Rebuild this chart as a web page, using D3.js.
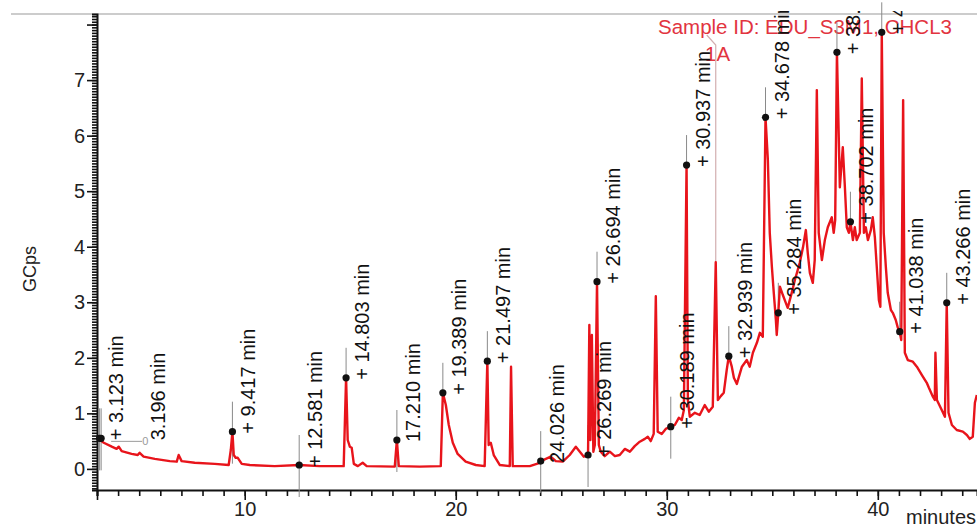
<!DOCTYPE html>
<html>
<head>
<meta charset="utf-8">
<script src="https://cdn.jsdelivr.net/npm/d3@7"></script>
<style>
body { margin: 0; background: #fff; }
svg { display: block; font-family: "Liberation Sans", Arial, sans-serif; }
</style>
</head>
<body>
<div class="chart"></div>
<script>
// chromatogram readings: retention time (min) and signal (GCps)
const traceTimes = [
  3.00, 3.32, 3.70, 3.93, 4.03, 4.17, 4.64, 4.93, 5.02, 5.21, 5.74, 6.45, 6.78, 6.87, 7.01, 7.63, 8.58,
  9.24, 9.34, 9.417, 9.48, 9.57, 9.67, 9.86, 10.24, 11.42, 12.581, 13.55, 14.69, 14.803, 14.88, 14.98,
  15.07, 15.17, 15.36, 15.59, 15.78, 17.11, 17.21, 17.30, 18.29, 19.29, 19.389, 19.53, 19.67, 19.86,
  20.09, 20.47, 20.95, 21.37, 21.497, 21.56, 21.66, 21.80, 22.09, 22.56, 22.62, 22.70, 23.51, 23.98,
  24.026, 24.27, 24.50, 24.74, 25.07, 25.40, 25.69, 25.88, 26.07, 26.269, 26.33, 26.38, 26.45, 26.52,
  26.59, 26.694, 26.78, 26.87, 27.06, 27.30, 27.54, 27.77, 28.01, 28.25, 28.48, 28.72, 28.96, 29.10,
  29.24, 29.38, 29.48, 29.57, 29.76, 29.95, 30.189, 30.38, 30.57, 30.71, 30.81, 30.937, 31.00, 31.09,
  31.33, 31.56, 31.80, 31.99, 32.18, 32.32, 32.42, 32.56, 32.70, 32.84, 32.939, 33.08, 33.18, 33.32,
  33.56, 33.79, 33.93, 34.08, 34.27, 34.41, 34.55, 34.678, 34.79, 34.88, 34.98, 35.07, 35.17, 35.21,
  35.284, 35.36, 35.50, 35.64, 35.73, 35.92, 36.07, 36.30, 36.45, 36.59, 36.68, 36.78, 36.92, 37.01,
  37.11, 37.20, 37.35, 37.49, 37.63, 37.82, 37.91, 37.98, 38.063, 38.20, 38.34, 38.44, 38.53, 38.63,
  38.702, 38.82, 38.91, 39.00, 39.15, 39.24, 39.34, 39.43, 39.53, 39.67, 39.76, 39.86, 39.95, 40.05,
  40.12, 40.187, 40.28, 40.38, 40.47, 40.62, 40.71, 40.85, 40.95, 41.038, 41.11, 41.20, 41.28, 41.42,
  41.66, 41.85, 42.09, 42.32, 42.42, 42.61, 42.70, 42.73, 42.80, 43.03, 43.18, 43.266, 43.35, 43.51,
  43.74, 44.03, 44.22, 44.36, 44.50, 44.60, 44.69
];
const traceValues = [
  0.56, 0.47, 0.40, 0.36, 0.40, 0.32, 0.27, 0.25, 0.29, 0.22, 0.18, 0.14, 0.13, 0.25, 0.14, 0.11, 0.09,
  0.07, 0.34, 0.67, 0.25, 0.20, 0.20, 0.09, 0.07, 0.05, 0.07, 0.05, 0.05, 1.64, 0.52, 0.40,
  0.38, 0.09, 0.05, 0.11, 0.05, 0.04, 0.52, 0.05, 0.04, 0.05, 1.37, 1.15, 0.79, 0.47,
  0.27, 0.13, 0.07, 0.05, 1.94, 0.43, 0.47, 0.25, 0.07, 0.05, 1.84, 0.05, 0.05, 0.11,
  0.14, 0.18, 0.22, 0.14, 0.13, 0.25, 0.40, 0.31, 0.22, 0.25, 2.59, 0.52, 2.41, 0.31,
  0.43, 3.37, 0.43, 0.31, 0.23, 0.31, 0.23, 0.25, 0.36, 0.31, 0.41, 0.49, 0.54, 0.58,
  0.50, 0.63, 3.11, 0.67, 0.63, 0.72, 0.76, 0.79, 0.92, 0.88, 1.06, 5.47, 1.24, 0.94,
  1.01, 0.97, 1.15, 1.03, 1.12, 3.72, 1.24, 1.31, 1.37, 1.78, 2.03, 1.84, 1.64, 1.53,
  1.84, 1.96, 1.84, 2.09, 2.27, 2.45, 2.38, 6.33, 5.56, 4.25, 3.64, 3.17, 2.68, 2.41,
  2.81, 3.28, 3.13, 2.99, 2.90, 3.17, 3.40, 3.71, 3.98, 4.30, 3.89, 3.53, 3.35, 3.76,
  6.82, 4.25, 3.76, 4.12, 4.35, 4.53, 4.25, 4.48, 7.50, 5.07, 5.79, 5.07, 4.35, 4.25,
  4.45, 4.12, 4.35, 4.12, 4.25, 7.03, 4.25, 4.35, 4.12, 4.30, 4.53, 4.17, 3.64, 3.04,
  2.92, 7.86, 4.25, 3.64, 3.17, 2.86, 2.81, 2.68, 2.54, 2.47, 2.32, 6.64, 2.09, 1.96,
  1.93, 1.84, 1.69, 1.55, 1.46, 1.30, 1.24, 2.09, 1.24, 1.06, 0.94, 2.99, 1.01, 0.79,
  0.70, 0.67, 0.61, 0.54, 0.58, 1.19, 1.33
];

// integrated peaks
const peakTimes  = [3.123, 3.196, 9.417, 12.581, 14.803, 17.210, 19.389, 21.497, 24.026, 26.269, 26.694,
                    30.189, 30.937, 32.939, 34.678, 35.284, 38.063, 38.702, 40.187, 41.038, 43.266];
const peakValues = [0.55, 0.55, 0.67, 0.07, 1.64, 0.52, 1.37, 1.94, 0.14, 0.25, 3.37,
                    0.76, 5.47, 2.03, 6.33, 2.81, 7.50, 4.45, 7.86, 2.47, 2.99];
const peakLabels = ['+ 3.123 min', '3.196 min', '+ 9.417 min', '+ 12.581 min', '+ 14.803 min', '17.210 min',
                    '+ 19.389 min', '+ 21.497 min', '24.026 min', '+ 26.269 min', '+ 26.694 min', '+ 30.189 min',
                    '+ 30.937 min', '+ 32.939 min', '+ 34.678 min', '+ 35.284 min', '+ 38.063 min',
                    '+ 38.702 min', '+ 40.187 min', '+ 41.038 min', '+ 43.266 min'];
const leaderPeaks = [3.196];

// peak pointed at by the sample label
const sampleTime = 32.32;
const sampleValue = 3.72;
const sampleLines = ['Sample ID: EDU_S3M1, CHCL3', '1A'];

const xTicks = [10, 20, 30, 40];
const yTicks = [0, 1, 2, 3, 4, 5, 6, 7];

const width = 977, height = 526;
const margin = {top: 14, right: 0, bottom: 36, left: 97};

const svg = d3.select('.chart').append('svg')
  .attr('width', width)
  .attr('height', height);

const x = d3.scaleLinear().domain([3, 44.7]).range([margin.left, width - margin.right]);
const y = d3.scaleLinear().domain([-0.38, 8.19]).range([height - margin.bottom, margin.top]);

svg.append('defs').append('clipPath').attr('id', 'labelClip')
  .append('rect').attr('x', 0).attr('y', 11).attr('width', width).attr('height', height - 11);

// frame top line
svg.append('line')
  .attr('x1', 11).attr('x2', width)
  .attr('y1', y.range()[1]).attr('y2', y.range()[1])
  .attr('stroke', '#9a9a9a').attr('stroke-width', 1.2);

// axes
const xMinor = svg.append('g')
  .attr('transform', `translate(0, ${y.range()[0]})`)
  .call(d3.axisBottom(x).tickValues(d3.range(3, 45)).tickSize(6).tickFormat(''));
const xMajor = svg.append('g')
  .attr('transform', `translate(0, ${y.range()[0]})`)
  .call(d3.axisBottom(x).tickValues([3].concat(xTicks)).tickSize(10).tickPadding(2)
    .tickFormat(d => xTicks.includes(d) ? d : ''));
xMajor.select('.domain').remove();

const yMinor = svg.append('g')
  .attr('transform', `translate(${x.range()[0]}, 0)`)
  .call(d3.axisLeft(y).tickValues(d3.range(-7, 164).map(i => i * 0.05)).tickSize(5).tickFormat(''));
const yMajor = svg.append('g')
  .attr('transform', `translate(${x.range()[0]}, 0)`)
  .call(d3.axisLeft(y).tickValues(yTicks.concat([8])).tickSize(10).tickPadding(2)
    .tickFormat(d => yTicks.includes(d) ? d : ''));
yMajor.select('.domain').remove();

// right-hand axis ticks
const yRight = svg.append('g')
  .attr('transform', `translate(${width + 1}, 0)`)
  .call(d3.axisLeft(y).tickValues(yTicks.concat([8])).tickSize(-8).tickFormat(''));
yRight.select('.domain').remove();

svg.selectAll('.domain').attr('stroke', '#111').attr('stroke-width', 2);
svg.selectAll('.tick line').attr('stroke', '#111').attr('stroke-width', 1.6);
svg.selectAll('.tick text').attr('font-size', 20).attr('fill', '#222')
  .attr('font-family', '"Liberation Sans", Arial, sans-serif');

// axis titles
svg.append('text')
  .attr('transform', `translate(36, ${y(3.6)}) rotate(-90)`)
  .attr('text-anchor', 'middle')
  .attr('font-size', 18)
  .attr('fill', '#222')
  .text('GCps');

svg.append('text')
  .attr('x', width - 1).attr('y', 524)
  .attr('text-anchor', 'end')
  .attr('font-size', 20)
  .attr('fill', '#222')
  .text('minutes');

// sample label and pointer
svg.append('text')
  .attr('x', 658).attr('y', 34)
  .attr('font-size', 20.5)
  .attr('fill', '#e2343f')
  .text(sampleLines[0]);
svg.append('text')
  .attr('x', 705).attr('y', 61)
  .attr('font-size', 20.5)
  .attr('fill', '#e2343f')
  .text(sampleLines[1]);
svg.append('polyline')
  .attr('points', `${x(sampleTime) - 9},35 ${x(sampleTime)},45 ${x(sampleTime)},${y(sampleValue)}`)
  .attr('fill', 'none')
  .attr('stroke', '#d2aeb0')
  .attr('stroke-width', 1.2);

// peak drop lines
const peaks = peakTimes.map((t, i) => ({time: t, value: peakValues[i], label: peakLabels[i]}));

svg.append('g').selectAll('line')
  .data(peaks)
  .enter().append('line')
    .attr('x1', d => x(d.time)).attr('x2', d => x(d.time))
    .attr('y1', d => y(d.value) - 30)
    .attr('y2', d => y(d.value) + (d.value < 0.8 ? 32 : 4))
    .attr('stroke', '#8a8a8a')
    .attr('stroke-width', 1);

// chromatogram trace
const trace = traceTimes.map((t, i) => [t, traceValues[i]]);
svg.append('path')
  .datum(trace)
  .attr('fill', 'none')
  .attr('stroke', '#e8141b')
  .attr('stroke-width', 2.4)
  .attr('stroke-linejoin', 'round')
  .attr('d', d3.line().x(d => x(d[0])).y(d => y(d[1])));

// markers
svg.append('g').selectAll('circle')
  .data(peaks)
  .enter().append('circle')
    .attr('cx', d => x(d.time))
    .attr('cy', d => y(d.value))
    .attr('r', 3.6)
    .attr('fill', '#111');

// leader for the crowded label
const leaders = peaks.filter(d => leaderPeaks.includes(d.time));
svg.append('g').selectAll('line')
  .data(leaders)
  .enter().append('line')
    .attr('x1', d => x(d.time) + 10).attr('x2', d => x(d.time) + 41)
    .attr('y1', d => y(d.value) + 3).attr('y2', d => y(d.value) + 3)
    .attr('stroke', '#9a9a9a').attr('stroke-width', 1);
svg.append('g').selectAll('text')
  .data(leaders)
  .enter().append('text')
    .attr('x', d => x(d.time) + 41).attr('y', d => y(d.value) + 7)
    .attr('font-size', 11).attr('fill', '#9a9a9a')
    .text('0');

// rotated peak labels
svg.append('g')
  .attr('clip-path', 'url(#labelClip)')
  .selectAll('text')
  .data(peaks)
  .enter().append('text')
    .attr('transform', d => {
      const dx = leaderPeaks.includes(d.time) ? 64 : 23;
      return `translate(${x(d.time) + dx}, ${y(d.value) + 2}) rotate(-90)`;
    })
    .attr('font-size', 20)
    .attr('fill', '#111')
    .text(d => d.label);
</script>
</body>
</html>
